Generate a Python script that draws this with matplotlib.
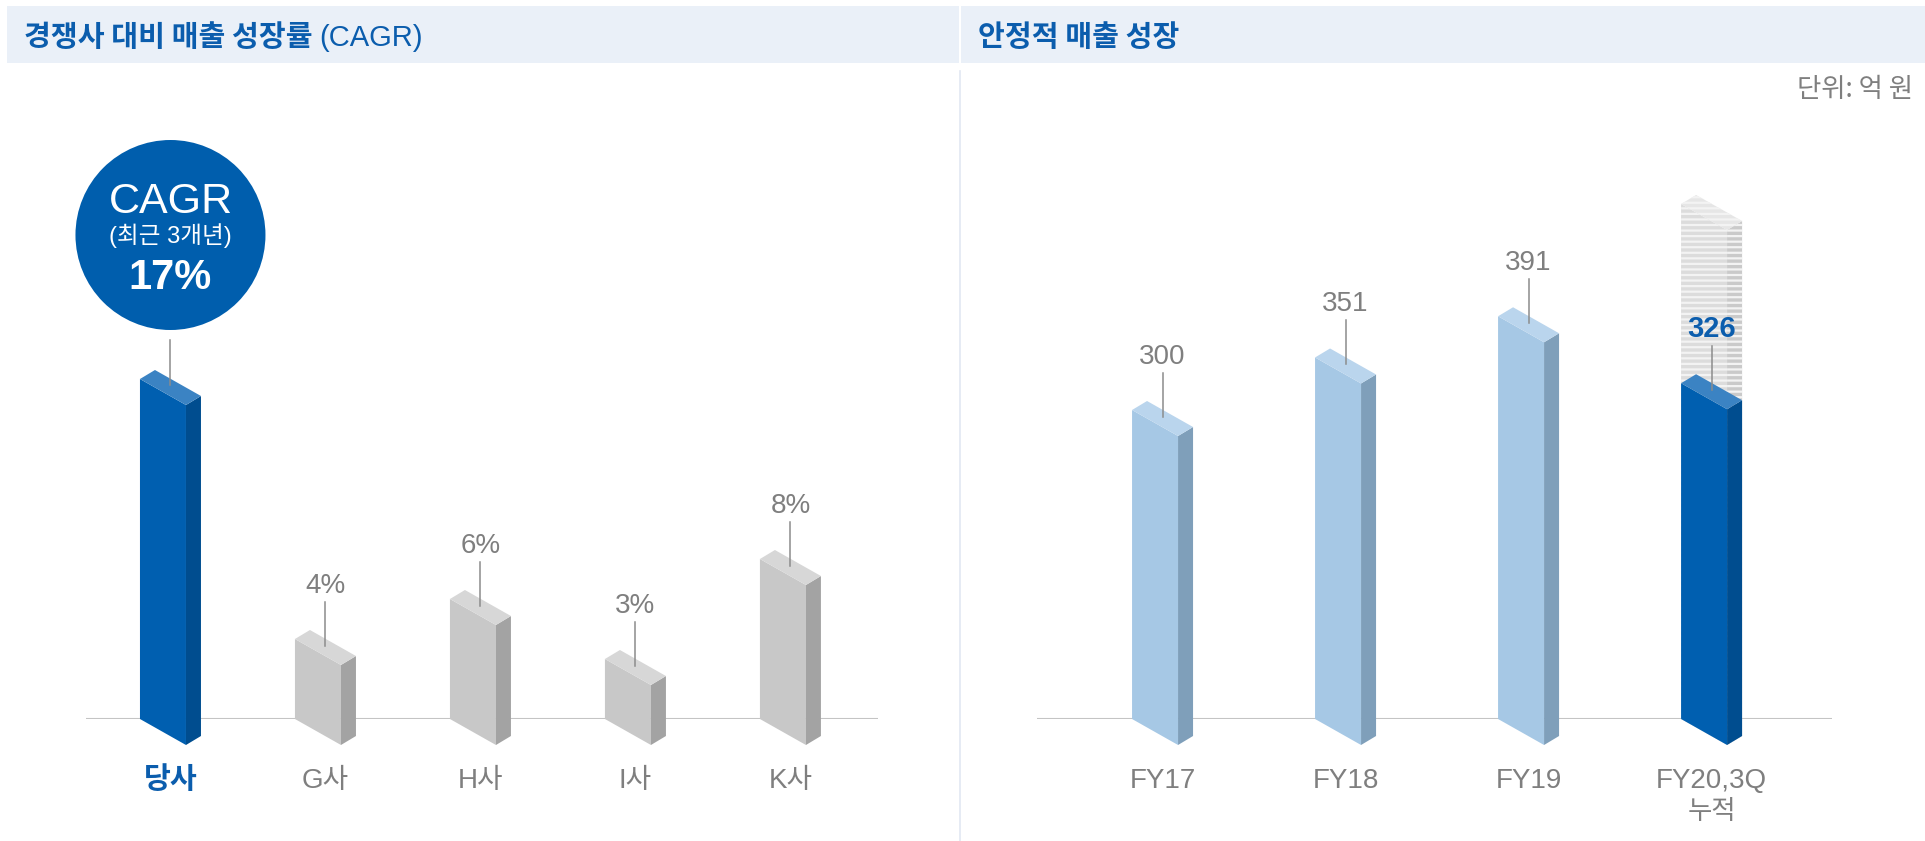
import matplotlib
matplotlib.use('Agg')
import matplotlib.pyplot as plt
from matplotlib.patches import Polygon, Rectangle, Circle
from matplotlib.transforms import IdentityTransform
from matplotlib.lines import Line2D

# ---------------- data ----------------
companies = ['당사', 'G사', 'H사', 'I사', 'K사']
cagr = [17, 4, 6, 3, 8]
years = ['FY17', 'FY18', 'FY19', 'FY20,3Q']
year_notes = ['', '', '', '누적']
sales = [300, 351, 391, 326]
fy20_projection = 500          # unlabeled hatched extension
circle_title = 'CAGR'
circle_sub = '(최근 3개년)'
unit_text = '단위: 억 원'
title_left = '경쟁사 대비 매출 성장률'
title_left_suffix = '(CAGR)'
title_right = '안정적 매출 성장'

# ---------------- style ----------------
W, H = 1925, 841
BLUE_TXT = '#0B5DAD'
GRAY_TXT = '#7F7F7F'
LEADER = '#8C8C8C'
HEADER_BG = '#EAF0F8'
C_MAIN = ('#005FB0', '#3B83C3', '#004D8F')   # front, top, side
C_GRAY = ('#C8C8C8', '#D7D7D7', '#A3A3A3')
C_LIGHT = ('#A6C8E5', '#BAD5ED', '#7F9FBA')
C_HATCH = ('#DCDCDC', '#E6E6E6', '#CACACA')
LAT = ['Liberation Sans', 'Noto Sans CJK KR']
KR = ['Noto Sans CJK KR', 'Liberation Sans']

plt.rcParams['hatch.linewidth'] = 1.6

fig = plt.figure(figsize=(W / 100, H / 100), dpi=100)
fig.patch.set_facecolor('white')
ID = IdentityTransform()

def px_axes(x0, x1, ybase, height):
    return fig.add_axes([x0 / W, (H - ybase) / H, (x1 - x0) / W, height / H])

axL = px_axes(86, 878, 719, 620)
axR = px_axes(1037, 1832, 719, 620)
axL.set_xlim(-0.545, 4.565)
axL.set_ylim(0, 620 / 20.0)
axR.set_xlim(-0.686, 3.658)
axR.set_ylim(0, 620 / 1.03)
for ax in (axL, axR):
    ax.axis('off')
    ax.axhline(0, color='#C4C4C4', lw=1.5, zorder=1)

FW, FDY, DX, DY = 46, 26, 15, 9   # isometric bar geometry in pixels

def bar3d(ax, xi, v, colors, z=3, hatch=None):
    Xc, Yt = ax.transData.transform((xi, v))
    _, Y0 = ax.transData.transform((xi, 0))
    XL = Xc - (FW + DX) / 2
    fr = [(XL, Y0), (XL + FW, Y0 - FDY), (XL + FW, Yt - FDY), (XL, Yt)]
    sd = [(XL + FW, Y0 - FDY), (XL + FW + DX, Y0 - FDY + DY),
          (XL + FW + DX, Yt - FDY + DY), (XL + FW, Yt - FDY)]
    tp = [(XL, Yt), (XL + DX, Yt + DY), (XL + FW + DX, Yt - FDY + DY), (XL + FW, Yt - FDY)]
    for pts, c in ((fr, colors[0]), (sd, colors[2]), (tp, colors[1])):
        kw = dict(facecolor=c, linewidth=0, transform=ID, zorder=z, clip_on=False)
        if hatch:
            kw.update(hatch=hatch, edgecolor='#F3F3F3')
        else:
            kw.update(edgecolor='none')
        ax.add_patch(Polygon(pts, closed=True, **kw))
    return Xc, Yt - (FDY - DY) / 2

def leader(ax, xc, yc, y_from=2, y_to=46):
    ax.add_line(Line2D([xc, xc], [yc + y_from, yc + y_to], transform=ID,
                       color=LEADER, lw=1.1, zorder=6, clip_on=False))

# ---------------- left panel ----------------
for i, (name, v) in enumerate(zip(companies, cagr)):
    cols = C_MAIN if i == 0 else C_GRAY
    xc, yc = bar3d(axL, i, v, cols)
    if i == 0:
        cy = yc + 152.5
        axL.add_patch(Circle((xc, cy), 95, transform=ID, facecolor='#005EAD',
                             edgecolor='none', zorder=5, clip_on=False))
        leader(axL, xc, yc, 3, 48)
        off = cy - (yc + 8.5)
        axL.annotate(circle_title, xy=(i, v), xytext=(0, off + 22), textcoords='offset pixels',
                     ha='center', va='baseline', fontsize=31, color='white', family=LAT,
                     zorder=7, annotation_clip=False)
        axL.annotate(circle_sub, xy=(i, v), xytext=(0, off - 1), textcoords='offset pixels',
                     ha='center', va='center', fontsize=17, color='white', family=LAT,
                     zorder=7, annotation_clip=False)
        axL.annotate(f'{v}%', xy=(i, v), xytext=(0, off - 54), textcoords='offset pixels',
                     ha='center', va='baseline', fontsize=30, fontweight='bold', color='white',
                     family=LAT, zorder=7, annotation_clip=False)
    else:
        leader(axL, xc, yc)
        axL.annotate(f'{v}%', xy=(i, v), xytext=(0, 46), textcoords='offset pixels',
                     ha='center', va='baseline', fontsize=20, color=GRAY_TXT, family=LAT,
                     zorder=7, annotation_clip=False)
    axL.annotate(name, xy=(i, 0), xytext=(0, -69), textcoords='offset pixels',
                 ha='center', va='baseline', fontsize=20 if i else 21,
                 fontweight='bold' if i == 0 else 'normal',
                 color=BLUE_TXT if i == 0 else GRAY_TXT, family=LAT, zorder=7,
                 annotation_clip=False)

# ---------------- right panel ----------------
last = len(sales) - 1
for i, (yr, note, v) in enumerate(zip(years, year_notes, sales)):
    if i == last:
        bar3d(axR, i, fy20_projection, C_HATCH, z=2, hatch='---')
        xc, yc = bar3d(axR, i, v, C_MAIN, z=3)
        leader(axR, xc, yc)
        axR.annotate(f'{v}', xy=(i, v), xytext=(0, 46), textcoords='offset pixels',
                     ha='center', va='baseline', fontsize=21, fontweight='bold',
                     color=BLUE_TXT, family=LAT, zorder=7, annotation_clip=False)
    else:
        xc, yc = bar3d(axR, i, v, C_LIGHT)
        leader(axR, xc, yc)
        axR.annotate(f'{v}', xy=(i, v), xytext=(0, 46), textcoords='offset pixels',
                     ha='center', va='baseline', fontsize=20, color=GRAY_TXT,
                     family=LAT, zorder=7, annotation_clip=False)
    axR.annotate(yr, xy=(i, 0), xytext=(0, -69), textcoords='offset pixels',
                 ha='center', va='baseline', fontsize=20, color=GRAY_TXT, family=LAT,
                 zorder=7, annotation_clip=False)
    if note:
        axR.annotate(note, xy=(i, 0), xytext=(0, -100), textcoords='offset pixels',
                     ha='center', va='baseline', fontsize=19, color=GRAY_TXT, family=KR,
                     zorder=7, annotation_clip=False)

# ---------------- headers & decorations ----------------
fig.add_artist(Rectangle((7, H - 63), 952, 57, transform=ID, facecolor=HEADER_BG,
                         edgecolor='none', zorder=0))
fig.add_artist(Rectangle((961, H - 63), W - 961, 57, transform=ID, facecolor=HEADER_BG,
                         edgecolor='none', zorder=0))
fig.add_artist(Line2D([960, 960], [0, H - 71], transform=ID, color='#E1E8F2', lw=1.2, zorder=0))

t1 = fig.text(24 / W, 1 - 46 / H, title_left, fontsize=21, fontweight='bold',
              color=BLUE_TXT, family=KR, va='baseline', ha='left')
renderer = fig.canvas.get_renderer()
bb = t1.get_window_extent(renderer)
fig.text((bb.x1 + 7) / W, 1 - 46 / H, title_left_suffix, fontsize=21, color=BLUE_TXT,
         family=LAT, va='baseline', ha='left')
fig.text(978 / W, 1 - 46 / H, title_right, fontsize=21, fontweight='bold',
         color=BLUE_TXT, family=KR, va='baseline', ha='left')
fig.text(1913 / W, 1 - 97 / H, unit_text, fontsize=19, color=GRAY_TXT, family=KR,
         va='baseline', ha='right')

fig.savefig('out.png', dpi=100, facecolor='white')
